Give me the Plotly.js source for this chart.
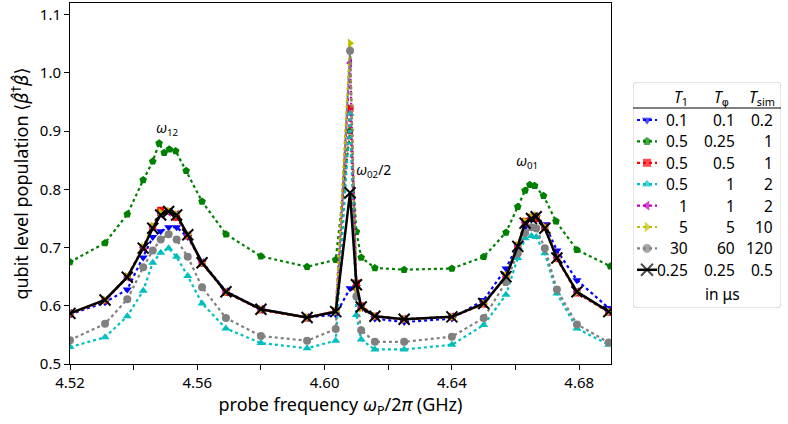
<!DOCTYPE html>
<html>
<head>
<meta charset="utf-8">
<script src="https://cdn.plot.ly/plotly-3.0.1.min.js"></script>
<style>html,body{margin:0;padding:0;background:#fff;}#chart{width:788px;height:424px;}</style>
</head>
<body>
<div id="chart"></div>
<script>
// ---- data ----
const freq = [4.520, 4.531, 4.538, 4.543, 4.546, 4.5485, 4.551, 4.5535, 4.557, 4.5615, 4.569, 4.580, 4.5945,
  4.6035, 4.608, 4.610, 4.6115, 4.6158, 4.625, 4.640, 4.650, 4.657, 4.6607, 4.663, 4.665, 4.6665, 4.6692, 4.673, 4.6793, 4.6893];
const popBlue    = [0.585,0.606,0.628,0.683,0.718,0.728,0.735,0.735,0.718,0.675,0.625,0.594,0.580,0.585,0.630,0.632,0.600,0.578,0.572,0.578,0.610,0.664,0.705,0.735,0.748,0.752,0.740,0.695,0.644,0.596];
const freqGreen  = [4.520,4.531,4.538,4.543,4.546,4.548,4.5496,4.5512,4.5532,4.5565,4.5615,4.569,4.580,4.5945,
  4.6035,4.608,4.610,4.6115,4.6158,4.625,4.640,4.650,4.657,4.6607,4.663,4.6645,4.666,4.6688,4.6727,4.6793,4.6898];
const popGreen   = [0.675,0.708,0.757,0.816,0.848,0.879,0.863,0.869,0.866,0.832,0.779,0.723,0.685,0.667,
  0.679,0.900,0.727,0.683,0.665,0.662,0.664,0.684,0.726,0.770,0.798,0.808,0.806,0.789,0.745,0.696,0.668];
const popRed     = [0.586,0.609,0.650,0.700,0.735,0.764,0.762,0.752,0.720,0.673,0.623,0.593,0.579,0.591,0.939,0.639,0.600,0.582,0.577,0.581,0.603,0.651,0.703,0.745,0.752,0.750,0.735,0.681,0.622,0.589];
const popCyan    = [0.529,0.546,0.582,0.626,0.674,0.691,0.699,0.684,0.651,0.604,0.561,0.536,0.527,0.540,0.930,0.584,0.542,0.525,0.525,0.533,0.567,0.619,0.682,0.716,0.720,0.718,0.690,0.621,0.561,0.533];
const popMagenta = [0.587,0.609,0.649,0.700,0.736,0.758,0.761,0.757,0.721,0.674,0.624,0.594,0.580,0.590,1.017,0.628,0.597,0.582,0.577,0.581,0.604,0.650,0.703,0.743,0.751,0.754,0.734,0.683,0.624,0.590];
const popYellow  = [0.587,0.610,0.650,0.701,0.737,0.760,0.763,0.757,0.722,0.674,0.624,0.594,0.580,0.590,1.051,0.625,0.596,0.582,0.577,0.581,0.604,0.651,0.704,0.745,0.752,0.755,0.735,0.683,0.624,0.590];
const popGray    = [0.541,0.569,0.611,0.666,0.695,0.714,0.723,0.714,0.684,0.632,0.579,0.548,0.540,0.560,1.038,0.616,0.558,0.538,0.538,0.547,0.579,0.641,0.690,0.725,0.735,0.733,0.699,0.628,0.568,0.537];
const popBlack   = [0.587,0.610,0.649,0.699,0.733,0.756,0.762,0.756,0.722,0.674,0.624,0.594,0.580,0.590,0.794,0.636,0.598,0.582,0.577,0.581,0.604,0.650,0.702,0.742,0.750,0.753,0.733,0.682,0.624,0.590];

const T1   = ["0.1","0.5","0.5","0.5","1","5","30","0.25"];
const Tphi = ["0.1","0.25","0.5","1","1","5","60","0.25"];
const Tsim = ["0.2","1","1","2","2","10","120","0.5"];

const xTickVals = [4.52, 4.56, 4.60, 4.64, 4.68];
const yTickVals = [0.5, 0.6, 0.7, 0.8, 0.9, 1.0, 1.1];

// ---- styles ----
const FONT = "Noto Sans, DejaVu Sans, sans-serif";
const series = [
  {x: freq, y: popBlue,    color: "#0000ff", symbol: "triangle-down", size: 8},
  {x: freqGreen, y: popGreen, color: "#008000", symbol: "pentagon", size: 8},
  {x: freq, y: popRed,     color: "#ff0000", symbol: "square", size: 7},
  {x: freq, y: popCyan,    color: "#00bfbf", symbol: "triangle-up", size: 8},
  {x: freq, y: popMagenta, color: "#bf00bf", symbol: "triangle-left", size: 8},
  {x: freq, y: popYellow,  color: "#bfbf00", symbol: "triangle-right", size: 8},
  {x: freq, y: popGray,    color: "#808080", symbol: "circle", size: 8},
  {x: freq, y: popBlack,   color: "#000000", symbol: "x-thin-open", size: 11, solid: true}
];

const traces = [];
series.forEach(s => {
  traces.push({
    type: "scatter", mode: "lines+markers", x: s.x, y: s.y, xaxis: "x", yaxis: "y",
    line: {color: s.color, width: s.solid ? 2.5 : 2.2, dash: s.solid ? "solid" : "dot"},
    marker: {symbol: s.symbol, size: s.size, color: s.color, line: {color: s.color, width: s.solid ? 2 : 0}},
    showlegend: false, hoverinfo: "skip"
  });
});

// ---- legend drawn on a hidden pixel-unit axis ----
const legL = 633, legR = 781, legT = 82, legB = 308;
const rowY0 = 120, rowStep = 21.4;
const annotations = [];
series.forEach((s, i) => {
  const yy = rowY0 + i * rowStep;
  traces.push({
    type: "scatter", mode: "lines+markers", x: [637, 647, 657], y: [yy, yy, yy], xaxis: "x2", yaxis: "y2",
    line: {color: s.color, width: s.solid ? 2.5 : 2.2, dash: s.solid ? "solid" : "dot"},
    marker: {symbol: s.symbol, size: [0, s.size + 1, 0], color: s.color, line: {color: s.color, width: s.solid ? 2 : 0}},
    showlegend: false, hoverinfo: "skip"
  });
  [[T1[i], 690], [Tphi[i], 737], [Tsim[i], 775]].forEach(([t, xr]) => {
    annotations.push({xref: "x2", yref: "y2", x: xr, y: yy, text: t, showarrow: false,
      xanchor: "right", yanchor: "middle", font: {family: FONT, size: 15.5, color: "#000"}});
  });
});
const phi = '<span style="font-family:DejaVu Sans">φ</span>';
[["<i>T</i><sub>1</sub>", 681], ["<i>T</i><sub>" + phi + "</sub>", 721], ["<i>T</i><sub>sim</sub>", 762]].forEach(([t, xc]) => {
  annotations.push({xref: "x2", yref: "y2", x: xc, y: 97, text: t, showarrow: false,
    xanchor: "center", yanchor: "middle", font: {family: FONT, size: 15.5, color: "#000"}});
});
annotations.push({xref: "x2", yref: "y2", x: 722, y: 294, text: "in μs", showarrow: false,
  xanchor: "center", yanchor: "middle", font: {family: FONT, size: 15.5, color: "#000"}});

// peak labels
annotations.push({xref: "x", yref: "y", x: 4.5505, y: 0.905, text: "<i>ω</i><sub>12</sub>", showarrow: false,
  xanchor: "center", yanchor: "middle", font: {family: FONT, size: 14, color: "#000"}});
annotations.push({xref: "x", yref: "y", x: 4.6093, y: 0.832, text: "<i>ω</i><sub>02</sub>/2", showarrow: false,
  xanchor: "left", yanchor: "middle", font: {family: FONT, size: 14, color: "#000"}});
annotations.push({xref: "x", yref: "y", x: 4.6637, y: 0.848, text: "<i>ω</i><sub>01</sub>", showarrow: false,
  xanchor: "center", yanchor: "middle", font: {family: FONT, size: 14, color: "#000"}});

const r = 5;
const boxPath = `M ${legL + r} ${legT} L ${legR - r} ${legT} Q ${legR} ${legT} ${legR} ${legT + r} L ${legR} ${legB - r} Q ${legR} ${legB} ${legR - r} ${legB} L ${legL + r} ${legB} Q ${legL} ${legB} ${legL} ${legB - r} L ${legL} ${legT + r} Q ${legL} ${legT} ${legL + r} ${legT} Z`;

const W = 788, H = 424, mL = 70, mR = 5, mT = 3, mB = 60;
const pw = W - mL - mR, ph = H - mT - mB;

const layout = {
  width: W, height: H,
  margin: {l: mL, r: mR, t: mT, b: mB, pad: 0},
  paper_bgcolor: "#fff", plot_bgcolor: "#fff",
  font: {family: FONT, size: 14, color: "#000"},
  showlegend: false,
  xaxis: {
    domain: [0, (611 - mL) / pw], range: [4.52, 4.69], tickvals: xTickVals, tickformat: ".2f",
    ticks: "outside", ticklen: 5, tickwidth: 1, tickcolor: "#000",
    minor: {dtick: 0.02, tick0: 4.52, ticks: "outside", ticklen: 5, tickwidth: 1, tickcolor: "#000"},
    showline: true, linecolor: "#000", linewidth: 1, mirror: true, showgrid: false, zeroline: false,
    tickfont: {family: FONT, size: 15},
    title: {text: "probe frequency <i>ω</i><sub>P</sub>/2<i>π</i> (GHz)", font: {family: FONT, size: 18}, standoff: 6}
  },
  yaxis: {
    domain: [0, 1], range: [0.5, 1.12], tickvals: yTickVals, tickformat: ".1f",
    ticks: "outside", ticklen: 5, tickwidth: 1, tickcolor: "#000",
    showline: true, linecolor: "#000", linewidth: 1, mirror: true, showgrid: false, zeroline: false,
    tickfont: {family: FONT, size: 15},
    title: {text: 'qubit level population <span style="font-family:DejaVu Sans">⟨<i>β̂</i><sup>†</sup><i>β̂</i>⟩</span>', font: {family: FONT, size: 18}, standoff: 6}
  },
  xaxis2: {domain: [(legL - mL) / pw, (legR - mL) / pw], range: [legL, legR], visible: false, fixedrange: true},
  yaxis2: {domain: [(H - mB - legB) / ph, (H - mB - legT) / ph], range: [legB, legT], visible: false, fixedrange: true},
  shapes: [
    {type: "path", xref: "x2", yref: "y2", path: boxPath, line: {color: "#cccccc", width: 1}, fillcolor: "rgba(255,255,255,0.8)", layer: "below"},
    {type: "line", xref: "x2", yref: "y2", x0: legL, x1: legR, y0: 108, y1: 108, line: {color: "#000", width: 1}}
  ],
  annotations: annotations
};

Plotly.newPlot("chart", traces, layout, {staticPlot: true, displayModeBar: false});
</script>
</body>
</html>
